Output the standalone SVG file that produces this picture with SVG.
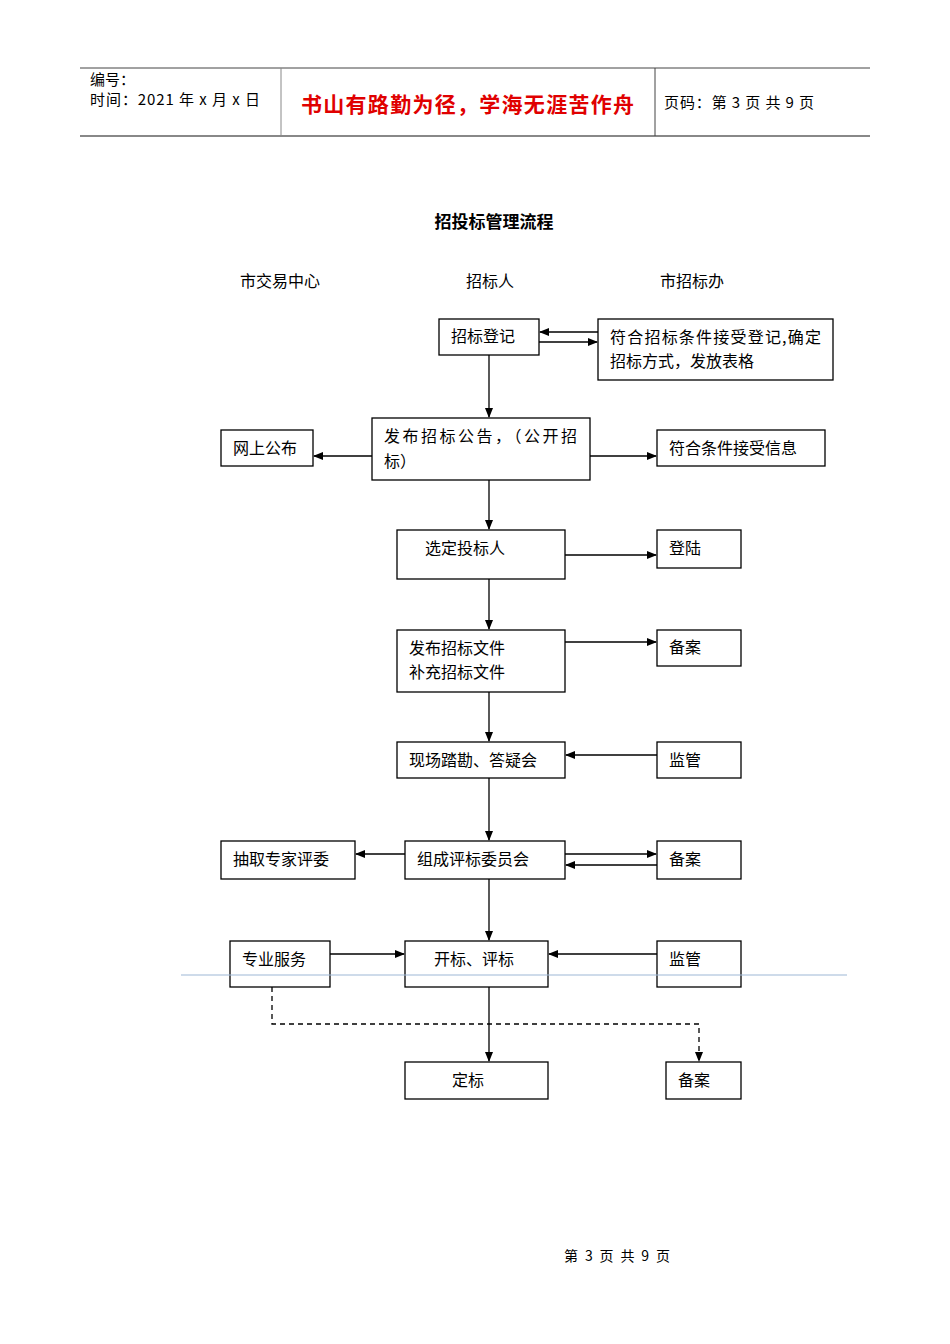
<svg xmlns="http://www.w3.org/2000/svg" width="950" height="1344" viewBox="0 0 950 1344">
<style>
text{font-family:"Noto Sans CJK SC","Noto Sans",sans-serif;fill:#000}
.b{fill:#fff;stroke:#000;stroke-width:1.3}
.t{font-size:16px}
.c line,.c path{stroke:#000;stroke-width:1.3;fill:none}
.d{stroke-dasharray:5,4}
</style>
<defs><marker id="a" markerWidth="10" markerHeight="8" refX="9" refY="4" orient="auto" markerUnits="userSpaceOnUse"><path d="M0,0L10,4L0,8z" fill="#000"/></marker></defs>
<rect width="950" height="1344" fill="#fff"/>
<g id="header">
<line x1="80" y1="68" x2="870" y2="68" stroke="#444" stroke-width="1"/>
<line x1="80" y1="136" x2="870" y2="136" stroke="#888" stroke-width="2"/>
<line x1="281" y1="68" x2="281" y2="136" stroke="#888"/>
<line x1="655" y1="68" x2="655" y2="136" stroke="#444"/>
<text x="90" y="85" font-size="15">编号：</text>
<text x="90" y="105" font-size="15" textLength="170">时间：2021 年 x 月 x 日</text>
<text x="301" y="112" font-size="21" font-weight="bold" textLength="333" style="fill:#e00000">书山有路勤为径，学海无涯苦作舟</text>
<text x="664" y="108" font-size="15" textLength="150">页码：第 3 页  共 9 页</text>
</g>
<text x="494" y="228" font-size="17" font-weight="bold" text-anchor="middle">招投标管理流程</text>
<text x="280" y="287" class="t" text-anchor="middle">市交易中心</text>
<text x="490" y="287" class="t" text-anchor="middle">招标人</text>
<text x="692" y="287" class="t" text-anchor="middle">市招标办</text>
<g class="c">
<line x1="489" y1="355" x2="489" y2="417" marker-end="url(#a)"/>
<line x1="598" y1="332" x2="540" y2="332" marker-end="url(#a)"/>
<line x1="539" y1="342" x2="597" y2="342" marker-end="url(#a)"/>
<line x1="372" y1="456" x2="314" y2="456" marker-end="url(#a)"/>
<line x1="590" y1="456" x2="656" y2="456" marker-end="url(#a)"/>
<line x1="489" y1="480" x2="489" y2="529" marker-end="url(#a)"/>
<line x1="565" y1="555" x2="656" y2="555" marker-end="url(#a)"/>
<line x1="489" y1="579" x2="489" y2="629" marker-end="url(#a)"/>
<line x1="565" y1="642" x2="656" y2="642" marker-end="url(#a)"/>
<line x1="489" y1="692" x2="489" y2="741" marker-end="url(#a)"/>
<line x1="657" y1="755" x2="566" y2="755" marker-end="url(#a)"/>
<line x1="489" y1="778" x2="489" y2="840" marker-end="url(#a)"/>
<line x1="405" y1="854" x2="356" y2="854" marker-end="url(#a)"/>
<line x1="565" y1="854" x2="656" y2="854" marker-end="url(#a)"/>
<line x1="657" y1="865" x2="566" y2="865" marker-end="url(#a)"/>
<line x1="489" y1="879" x2="489" y2="940" marker-end="url(#a)"/>
<line x1="330" y1="954" x2="404" y2="954" marker-end="url(#a)"/>
<line x1="657" y1="954" x2="549" y2="954" marker-end="url(#a)"/>
<line x1="489" y1="987" x2="489" y2="1061" marker-end="url(#a)"/>
<path class="d" d="M272,987V1024H699V1061" marker-end="url(#a)"/>
</g>
<g id="n1"><rect class="b" x="439" y="319" width="100" height="36"/><text class="t" x="451" y="342">招标登记</text></g>
<g id="n2"><rect class="b" x="598" y="319" width="235" height="61"/><text class="t" x="610" y="343" textLength="211">符合招标条件接受登记,确定</text><text class="t" x="610" y="367">招标方式，发放表格</text></g>
<g id="n3"><rect class="b" x="372" y="418" width="218" height="62"/><text class="t" x="384" y="442" textLength="193">发布招标公告，（公开招</text><text class="t" x="384" y="467">标）</text></g>
<g id="n4"><rect class="b" x="221" y="430" width="92" height="36"/><text class="t" x="233" y="454">网上公布</text></g>
<g id="n5"><rect class="b" x="657" y="430" width="168" height="36"/><text class="t" x="669" y="454">符合条件接受信息</text></g>
<g id="n6"><rect class="b" x="397" y="530" width="168" height="49"/><text class="t" x="425" y="554">选定投标人</text></g>
<g id="n7"><rect class="b" x="657" y="530" width="84" height="38"/><text class="t" x="669" y="554">登陆</text></g>
<g id="n8"><rect class="b" x="397" y="630" width="168" height="62"/><text class="t" x="409" y="654">发布招标文件</text><text class="t" x="409" y="678">补充招标文件</text></g>
<g id="n9"><rect class="b" x="657" y="630" width="84" height="36"/><text class="t" x="669" y="653">备案</text></g>
<g id="n10"><rect class="b" x="397" y="742" width="168" height="36"/><text class="t" x="409" y="766">现场踏勘、答疑会</text></g>
<g id="n11"><rect class="b" x="657" y="742" width="84" height="36"/><text class="t" x="669" y="766">监管</text></g>
<g id="n12"><rect class="b" x="221" y="841" width="134" height="38"/><text class="t" x="233" y="865">抽取专家评委</text></g>
<g id="n13"><rect class="b" x="405" y="841" width="160" height="38"/><text class="t" x="417" y="865">组成评标委员会</text></g>
<g id="n14"><rect class="b" x="657" y="841" width="84" height="38"/><text class="t" x="669" y="865">备案</text></g>
<g id="n15"><rect class="b" x="230" y="941" width="100" height="46"/><text class="t" x="242" y="965">专业服务</text></g>
<g id="n16"><rect class="b" x="405" y="941" width="143" height="46"/><text class="t" x="434" y="965">开标、评标</text></g>
<g id="n17"><rect class="b" x="657" y="941" width="84" height="46"/><text class="t" x="669" y="965">监管</text></g>
<g id="n18"><rect class="b" x="405" y="1062" width="143" height="37"/><text class="t" x="452" y="1086">定标</text></g>
<g id="n19"><rect class="b" x="666" y="1062" width="75" height="37"/><text class="t" x="678" y="1086">备案</text></g>
<line x1="181" y1="975" x2="847" y2="975" stroke="#9db7d6" stroke-width="1.2"/>
<text x="617" y="1261" font-size="14" text-anchor="middle" textLength="106" font-family="Noto Sans CJK SC,serif">第 3 页 共 9 页</text>
</svg>
